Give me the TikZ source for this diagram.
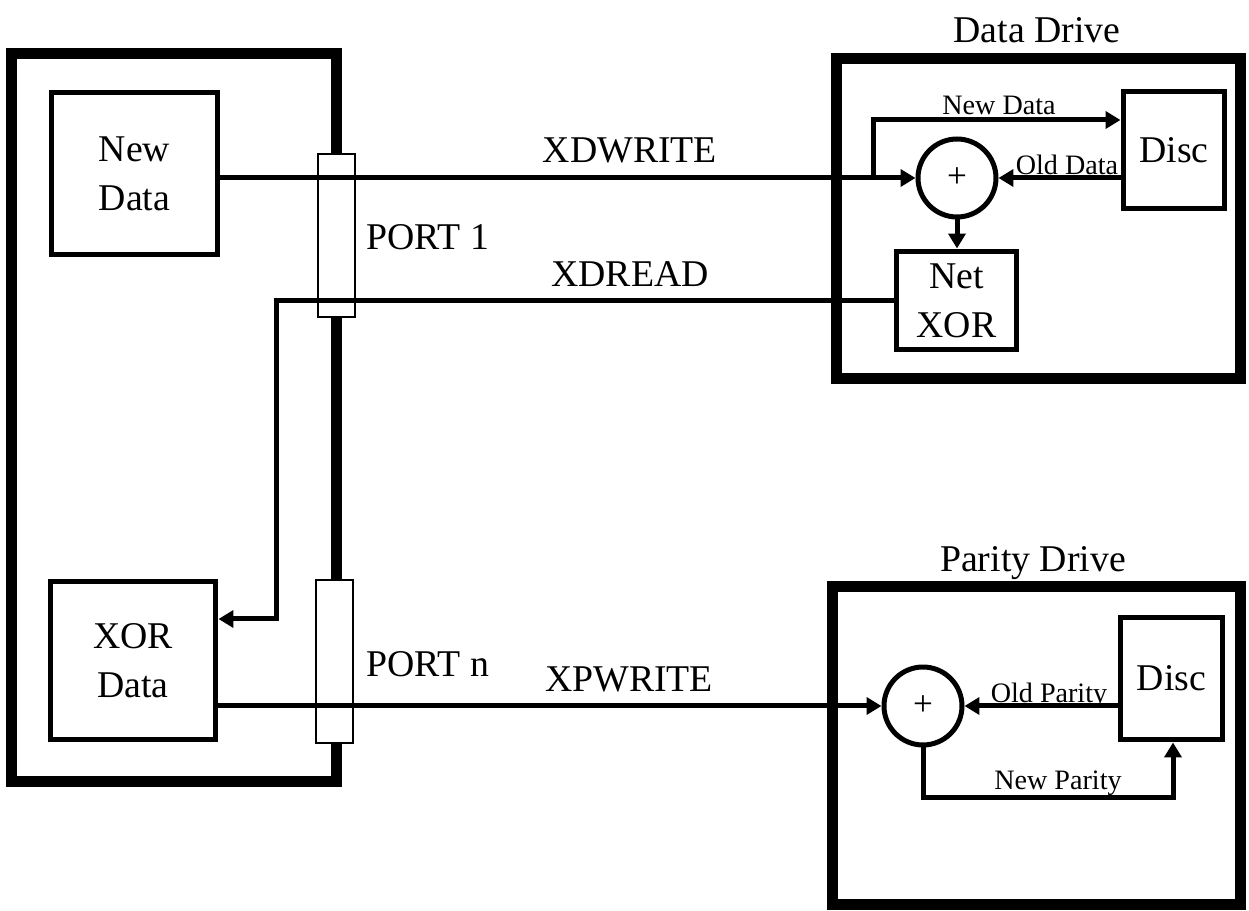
\documentclass[tikz,border=0pt]{standalone}
\usepackage{fontspec}
\setmainfont{Liberation Serif}
\usetikzlibrary{arrows.meta, positioning}

\begin{document}
\begin{tikzpicture}[x=0.02cm, y=-0.02cm, >={Triangle[length=0.3cm, width=0.34cm]},
    frame/.style={draw, line width=0.22cm},
    block/.style={draw, line width=0.1cm, align=center, font=\fontsize{21.5}{28}\selectfont},
    port/.style={draw, fill=white, line width=0.04cm, minimum width=0.74cm, minimum height=3.26cm},
    xorsum/.style={circle, draw, line width=0.1cm, minimum size=1.56cm, inner sep=0pt, font=\fontsize{20}{20}\selectfont},
    link/.style={line width=0.1cm},
    biglabel/.style={anchor=base, inner sep=0pt, font=\fontsize{21.5}{28}\selectfont},
    smalllabel/.style={anchor=base, inner sep=0pt, font=\fontsize{16}{18}\selectfont}]

        \useasboundingbox (0,0) rectangle (1249,911);

        % Host side
        \node[frame, minimum width=6.52cm, minimum height=14.58cm] (host) at (174,417.5) {};
        \node[block, minimum width=3.34cm, minimum height=3.26cm] (newdata) at (134.5,173.5) {New\\Data};
        \node[block, minimum width=3.32cm, minimum height=3.18cm] (xordata) at (133,660.5) {XOR\\Data};
        \node[port] (port1) at (336.5,235.5) {};
        \node[port] (portn) at (334.5,661.5) {};

        % Data drive
        \node[frame, minimum width=8.1cm, minimum height=6.42cm] (ddrive) at (1038.5,218.5) {};
        \node[biglabel] (dtitle) at (1037,43) {Data Drive};
        \node[block, minimum width=2.04cm, minimum height=2.36cm] (ddisc) at (1174,150) {Disc};
        \node[xorsum] (dsum) at (957,178) {+};
        \node[block, minimum width=2.42cm, minimum height=1.98cm] (netxor) at (956.5,300.5) {Net\\XOR};

        % Parity drive
        \node[frame, minimum width=8.18cm, minimum height=6.38cm] (pdrive) at (1036.5,745.5) {};
        \node[biglabel] (ptitle) at (1033,572) {Parity Drive};
        \node[block, minimum width=2.06cm, minimum height=2.46cm] (pdisc) at (1171.5,678.5) {Disc};
        \node[xorsum] (psum) at (923,706) {+};

        % Bends
        \coordinate (split) at (873,178);
        \coordinate (rdturn) at (276,619);
        \coordinate (npturn) at (1173,798);

        % Connections
        \draw[link, ->] (newdata.east |- dsum.west) -- (dsum.west);
        \draw[link, ->] (split) |- ([yshift=0.6cm]ddisc.west);
        \draw[link, ->] (ddisc.west |- dsum.east) -- (dsum.east);
        \draw[link, ->] (dsum.south) -- (dsum.south |- netxor.north);
        \draw[link, ->] (netxor.west) -| (rdturn) -- (xordata.east |- rdturn);
        \draw[link, ->] (xordata.east |- psum.west) -- (psum.west);
        \draw[link, ->] (pdisc.west |- psum.east) -- (psum.east);
        \draw[link, ->] (psum.south) |- (npturn) -- (npturn |- pdisc.south);

        % Labels
        \node[biglabel] (xdwrite) at (630,163) {XDWRITE};
        \node[biglabel] (port1lbl) at (428,250) {PORT 1};
        \node[biglabel] (xdread) at (630,287) {XDREAD};
        \node[biglabel] (portnlbl) at (428,677) {PORT n};
        \node[biglabel] (xpwrite) at (629,692) {XPWRITE};
        \node[smalllabel] (ndlbl) at (999,115) {New Data};
        \node[smalllabel] (odlbl) at (1067,175) {Old Data};
        \node[smalllabel] (oplbl) at (1049,703) {Old Parity};
        \node[smalllabel] (nplbl) at (1058,790) {New Parity};

    \end{tikzpicture}
\end{document}
